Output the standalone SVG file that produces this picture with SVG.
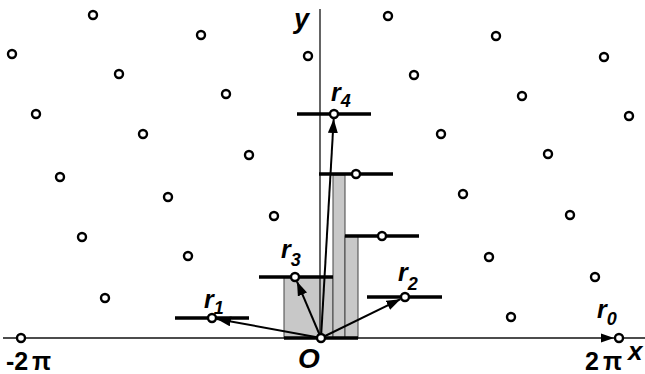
<svg xmlns="http://www.w3.org/2000/svg" width="645" height="374" viewBox="0 0 645 374">
<style>
.axis{stroke:#111;stroke-width:1.3;fill:none}
.bar{stroke:#000;stroke-width:3.4;fill:none}
.vec{stroke:#000;stroke-width:2;fill:none}
.gray{fill:#c8c8c8;stroke:#444;stroke-width:1}
.pt{fill:#fff;stroke:#000;stroke-width:2.4}
.lab{font-family:"Liberation Sans",Arial,sans-serif;font-weight:bold;font-style:italic;fill:#000}
.num{font-family:"Liberation Sans",Arial,sans-serif;font-weight:bold;fill:#000}
</style>
<defs>
<marker id="ah" markerUnits="userSpaceOnUse" markerWidth="14" markerHeight="10" refX="14" refY="5" orient="auto">
<path d="M0,0 L14,5 L0,10 z" fill="#000"/>
</marker>
</defs>
<g id="histogram">
<rect class="gray" x="284" y="277" width="49" height="61"/>
<rect class="gray" x="333" y="175" width="12" height="163"/>
<rect class="gray" x="345" y="236" width="13" height="102"/>
</g>
<g id="axes">
<line class="axis" x1="3" y1="338" x2="645" y2="338"/>
<line class="axis" x1="320" y1="9" x2="320" y2="338"/>
<path d="M601,333.5 L614,338 L601,342.5 z" fill="#000"/>
</g>
<g id="bars">
<line class="bar" x1="297" y1="114" x2="371" y2="114"/>
<line class="bar" x1="319" y1="174" x2="393" y2="174"/>
<line class="bar" x1="345" y1="236" x2="419" y2="236"/>
<line class="bar" x1="259" y1="277" x2="333" y2="277"/>
<line class="bar" x1="367" y1="297" x2="442" y2="297"/>
<line class="bar" x1="175" y1="318" x2="249" y2="318"/>
<line class="bar" x1="284" y1="338" x2="358" y2="338"/>
</g>
<g id="connectors">
<line class="vec" x1="321" y1="338" x2="216.9" y2="318.9" marker-end="url(#ah)"/>
<line class="vec" x1="321" y1="338" x2="297" y2="281.6" marker-end="url(#ah)"/>
<line class="vec" x1="321" y1="338" x2="333.7" y2="119" marker-end="url(#ah)"/>
<line class="vec" x1="321" y1="338" x2="400.5" y2="299.2" marker-end="url(#ah)"/>
</g>
<g id="points">
<circle class="pt" cx="93" cy="15" r="4"/>
<circle class="pt" cx="201" cy="35" r="4"/>
<circle class="pt" cx="12" cy="54" r="4"/>
<circle class="pt" cx="308" cy="56" r="4"/>
<circle class="pt" cx="119" cy="74" r="4"/>
<circle class="pt" cx="226" cy="94" r="4"/>
<circle class="pt" cx="36" cy="114" r="4"/>
<circle class="pt" cx="143" cy="134" r="4"/>
<circle class="pt" cx="249" cy="155" r="4"/>
<circle class="pt" cx="60" cy="177" r="4"/>
<circle class="pt" cx="168" cy="197" r="4"/>
<circle class="pt" cx="274" cy="216" r="4"/>
<circle class="pt" cx="82" cy="237" r="4"/>
<circle class="pt" cx="188" cy="256" r="4"/>
<circle class="pt" cx="105" cy="298" r="4"/>
<circle class="pt" cx="21" cy="338" r="4"/>
<circle class="pt" cx="388" cy="16" r="4"/>
<circle class="pt" cx="496" cy="36" r="4"/>
<circle class="pt" cx="604" cy="57" r="4"/>
<circle class="pt" cx="414" cy="75" r="4"/>
<circle class="pt" cx="522" cy="96" r="4"/>
<circle class="pt" cx="629" cy="116" r="4"/>
<circle class="pt" cx="441" cy="134" r="4"/>
<circle class="pt" cx="548" cy="154" r="4"/>
<circle class="pt" cx="463" cy="194" r="4"/>
<circle class="pt" cx="570" cy="215" r="4"/>
<circle class="pt" cx="489" cy="257" r="4"/>
<circle class="pt" cx="595" cy="277" r="4"/>
<circle class="pt" cx="511" cy="317" r="4"/>
<circle class="pt" cx="356" cy="174" r="4"/>
<circle class="pt" cx="382" cy="236" r="4"/>
</g>
<g id="r0"><circle class="pt" cx="619" cy="338" r="4"/><text class="lab" x="597" y="318" font-size="25">r<tspan font-size="18" dy="7">0</tspan></text></g>
<g id="r1"><circle class="pt" cx="212" cy="318" r="4"/><text class="lab" x="204" y="308" font-size="25">r<tspan font-size="18" dy="6">1</tspan></text></g>
<g id="r2"><circle class="pt" cx="405" cy="297" r="4"/><text class="lab" x="398" y="281" font-size="25">r<tspan font-size="18" dy="9">2</tspan></text></g>
<g id="r3"><circle class="pt" cx="295" cy="277" r="4"/><text class="lab" x="281" y="258" font-size="25">r<tspan font-size="18" dy="8">3</tspan></text></g>
<g id="r4"><circle class="pt" cx="334" cy="114" r="4"/><text class="lab" x="331" y="101" font-size="25">r<tspan font-size="18" dy="6">4</tspan></text></g>
<g id="O"><circle class="pt" cx="321" cy="338" r="4"/><text class="lab" x="298" y="368" font-size="28">O</text></g>
<g id="labels">
<text class="lab" x="294" y="28" font-size="27">y</text>
<text class="lab" x="628" y="360" font-size="26">x</text>
<text class="num" x="6" y="370" font-size="25">-2<tspan x="32">π</tspan></text>
<text class="num" x="585" y="370" font-size="25">2<tspan x="603">π</tspan></text>
</g>
</svg>
